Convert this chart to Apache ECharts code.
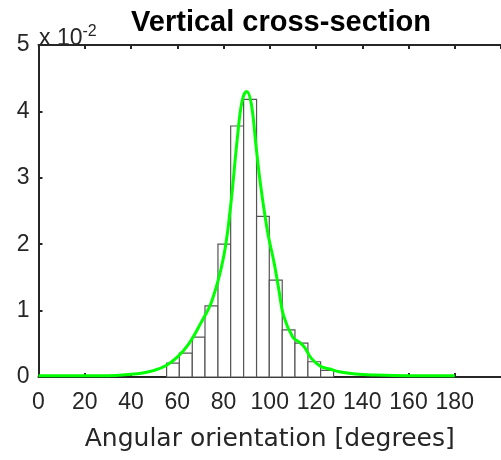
<!DOCTYPE html>
<html>
<head>
<meta charset="utf-8">
<script src="https://cdn.jsdelivr.net/npm/echarts@6/dist/echarts.min.js"></script>
<style>
  html, body { margin: 0; padding: 0; background: #fff; }
  #main { width: 501px; height: 460px; }
</style>
</head>
<body>
<div id="main"></div>
<script>
// histogram bins (degrees) and heights (probability density)
var binEdges = [55.4, 60.9, 66.5, 72.0, 77.6, 83.1, 88.7, 94.3, 99.8, 105.4, 110.9, 116.5, 122.0, 127.6];
var binHeights = [0.0021, 0.0036, 0.0060, 0.0107, 0.0200, 0.0378, 0.0418, 0.0242, 0.0146, 0.0071, 0.0051, 0.0023, 0.0010];

// fitted curve (green)
var curveX = [0, 10, 20, 30, 40, 45, 50, 55, 60, 65, 70, 75, 80, 83, 86, 88, 90, 92, 94, 96, 99, 102, 104, 106, 110, 113, 115, 118, 122, 126, 130, 137, 145, 160, 180];
var curveY = [0.0002, 0.0002, 0.0002, 0.0002, 0.0004, 0.0006, 0.0010, 0.0017, 0.0030, 0.0050, 0.0080, 0.0115, 0.0180, 0.0255, 0.0360, 0.0415, 0.0430, 0.0412, 0.0350, 0.0290, 0.0220, 0.0170, 0.0130, 0.0092, 0.0060, 0.0052, 0.0045, 0.0028, 0.0016, 0.0012, 0.0008, 0.00045, 0.0003, 0.0002, 0.0002];

var xTicks = [0, 20, 40, 60, 80, 100, 120, 140, 160, 180];
var yTickLabels = ['0', '1', '2', '3', '4', '5'];

var bars = binHeights.map(function (h, i) {
  return [binEdges[i], binEdges[i + 1], h];
});
var curve = curveX.map(function (x, i) { return [x, curveY[i]]; });

var axisColor = '#262626';
var chart = echarts.init(document.getElementById('main'));

var option = {
  animation: false,
  title: {
    text: 'Vertical cross-section',
    left: 276,
    top: 3,
    textAlign: 'center',
    textStyle: { fontFamily: 'Liberation Sans', fontWeight: 'bold', fontSize: 29, color: '#000' }
  },
  grid: { left: 38.5, right: -12, top: 45, bottom: 83 },
  xAxis: [{
    type: 'value', min: 0, max: 200, interval: 20, position: 'bottom',
    name: 'Angular orientation [degrees]', nameLocation: 'middle', nameGap: 50,
    nameTextStyle: { fontFamily: 'DejaVu Sans', fontSize: 25, color: '#262626' },
    axisLine: { lineStyle: { color: axisColor, width: 2 } },
    axisTick: { inside: true, length: 4, lineStyle: { color: axisColor, width: 2 } },
    axisLabel: {
      margin: 14, showMaxLabel: false, fontFamily: 'Liberation Sans', fontSize: 23, color: '#262626',
      formatter: function (v) { return xTicks.indexOf(v) >= 0 ? String(v) : ''; }
    },
    splitLine: { show: false }
  }, {
    type: 'value', min: 0, max: 200, interval: 20, position: 'top',
    axisLine: { lineStyle: { color: axisColor, width: 2 } },
    axisTick: { inside: true, length: 4, lineStyle: { color: axisColor, width: 2 } },
    axisLabel: { show: false },
    splitLine: { show: false }
  }],
  yAxis: [{
    type: 'value', min: 0, max: 0.05, interval: 0.01,
    axisLine: { show: true, lineStyle: { color: axisColor, width: 2 } },
    axisTick: { show: true, inside: true, length: 4, lineStyle: { color: axisColor, width: 2 } },
    axisLabel: {
      margin: 9, fontFamily: 'Liberation Sans', fontSize: 23, color: '#262626',
      formatter: function (v) { return yTickLabels[Math.round(v * 100)]; }
    },
    splitLine: { show: false }
  }],
  graphic: [{
    type: 'text', left: 39, top: 24, z: 10,
    style: {
      text: '{a|x 10}{b|-2}',
      rich: {
        a: { fontFamily: 'Liberation Sans', fontSize: 23, fill: '#262626', verticalAlign: 'bottom' },
        b: { fontFamily: 'Liberation Sans', fontSize: 16, fill: '#262626', verticalAlign: 'top', padding: [0, 0, 10, 0] }
      }
    }
  }],
  series: [{
    type: 'custom',
    data: bars,
    encode: { x: [0, 1], y: 2 },
    renderItem: function (params, api) {
      var p0 = api.coord([api.value(0), api.value(2)]);
      var p1 = api.coord([api.value(1), 0]);
      return {
        type: 'rect',
        shape: { x: p0[0], y: p0[1], width: p1[0] - p0[0], height: p1[1] - p0[1] },
        style: { fill: '#fff', stroke: '#555', lineWidth: 1.2 }
      };
    },
    z: 2
  }, {
    type: 'line',
    data: curve,
    smooth: 0.4,
    showSymbol: false,
    lineStyle: { color: '#00ff00', width: 3 },
    z: 3
  }]
};

chart.setOption(option);
</script>
</body>
</html>
